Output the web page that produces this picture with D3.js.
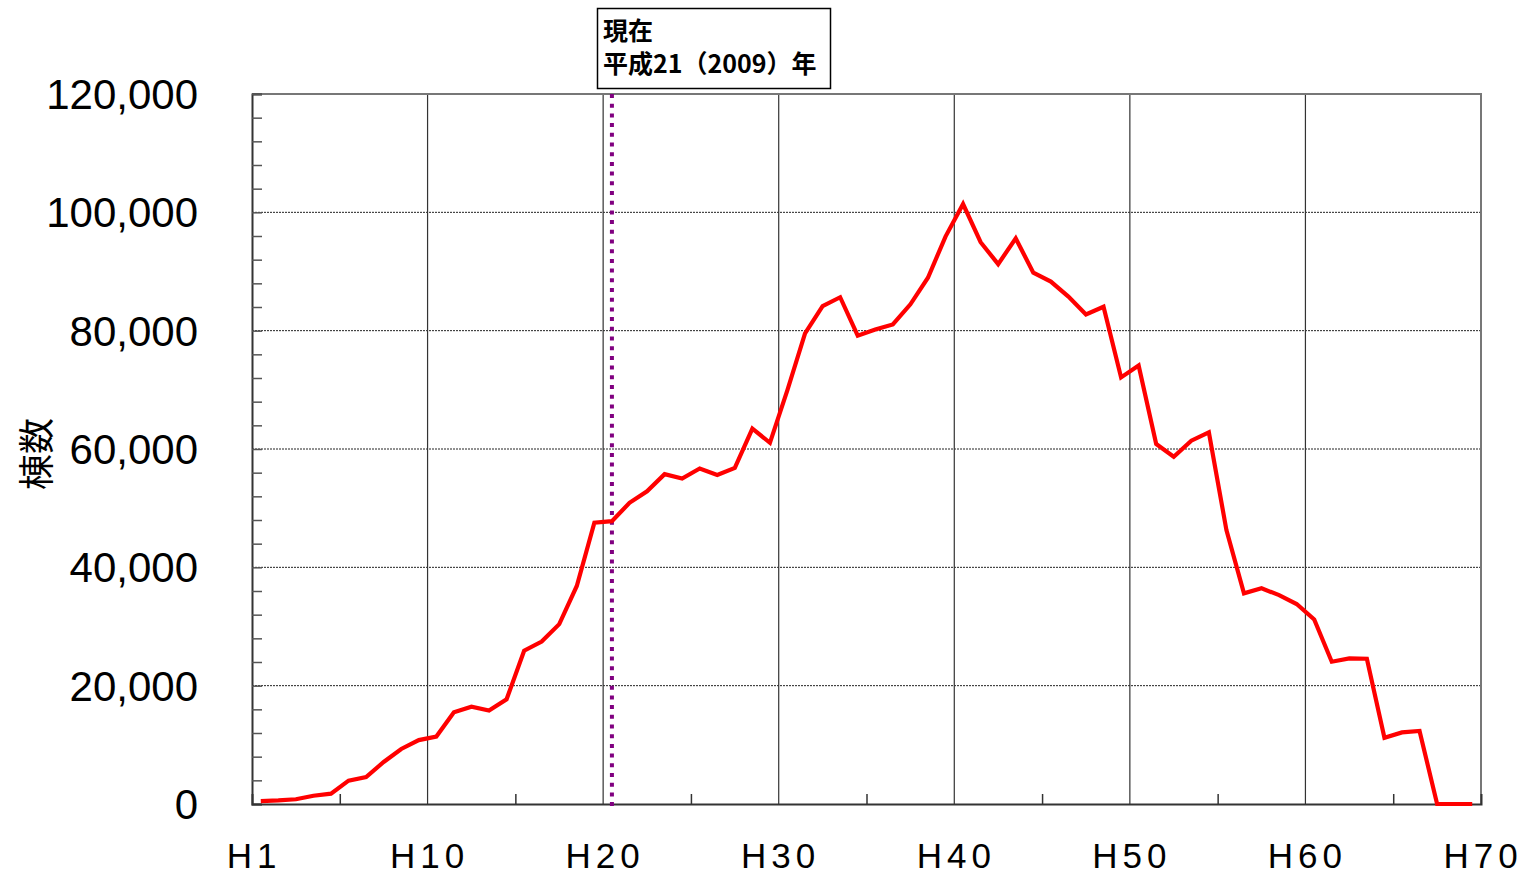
<!DOCTYPE html>
<html>
<head>
<meta charset="utf-8">
<script src="https://cdn.jsdelivr.net/npm/d3@7"></script>
<style>
  body { margin: 0; background: #fff; }
  svg { display: block; }
</style>
</head>
<body>
<div id="chart"></div>
<script>
// number of buildings per year, H1 .. H70
let years = d3.range(1, 71).map(n => 'H' + n);
let counts = [
  500, 600, 800, 1400, 1750, 3950, 4550, 7100, 9300, 10800,
  11400, 15500, 16450, 15800, 17700, 25900, 27450, 30400, 36850, 47550,
  47800, 50900, 52850, 55750, 55000, 56700, 55600, 56800, 63450, 61050,
  70000, 79550, 84150, 85650, 79150, 80200, 81050, 84450, 88950, 95900,
  101400, 94950, 91250, 95600, 89800, 88300, 85750, 82750, 84050, 72100,
  74100, 60850, 58700, 61400, 62800, 46300, 35600, 36450, 35300, 33800,
  31200, 24050, 24600, 24550, 11200, 12100, 12350, 0, 0, 0
];
let xTickValues = [0, 10, 20, 30, 40, 50, 60, 70];
let xTickLabels = ['H1', 'H10', 'H20', 'H30', 'H40', 'H50', 'H60', 'H70'];
let yTickValues = [0, 20000, 40000, 60000, 80000, 100000, 120000];
let currentYear = 'H21';
let noteLines = ['現在', '平成21（2009）年'];
let yTitle = '棟数';

let width = 1524, height = 875;
let margin = { left: 252, right: 43, top: 94, bottom: 71 };

let svg = d3.select('#chart').append('svg')
  .attr('width', width)
  .attr('height', height);

let x = d3.scaleLinear().domain([0, years.length]).range([margin.left, width - margin.right]);
let y = d3.scaleLinear().domain([0, 120000]).range([height - margin.bottom, margin.top]);
let xMid = name => x(years.indexOf(name) + 0.5);

// horizontal grid (dotted)
svg.append('g')
  .selectAll('line')
  .data(yTickValues.slice(1, -1))
  .join('line')
  .attr('x1', x(0)).attr('x2', x(70))
  .attr('y1', d => y(d)).attr('y2', d => y(d))
  .attr('stroke', '#222')
  .attr('stroke-width', 1)
  .attr('stroke-dasharray', '2,1');

// vertical grid (solid)
svg.append('g')
  .selectAll('line')
  .data(xTickValues.slice(1, -1))
  .join('line')
  .attr('x1', d => x(d)).attr('x2', d => x(d))
  .attr('y1', y(120000)).attr('y2', y(0))
  .attr('stroke', '#333')
  .attr('stroke-width', 1.2);

// frame top / right
svg.append('path')
  .attr('d', `M${x(0)},${y(120000)}H${x(70)}V${y(0)}`)
  .attr('fill', 'none')
  .attr('stroke', '#777')
  .attr('stroke-width', 2);

// y axis with inner minor ticks
let yAxis = d3.axisRight(y)
  .tickValues(d3.range(0, 120001, 4000))
  .tickSize(10)
  .tickFormat('');
let gy = svg.append('g').attr('transform', `translate(${x(0)},0)`).call(yAxis);
gy.select('.domain').attr('stroke', '#333').attr('stroke-width', 2);
gy.selectAll('.tick line').attr('stroke', '#555').attr('stroke-width', 1.5);

svg.append('g')
  .selectAll('text')
  .data(yTickValues)
  .join('text')
  .attr('x', 198)
  .attr('y', d => y(d))
  .attr('dy', '0.36em')
  .attr('text-anchor', 'end')
  .attr('font-family', 'Liberation Sans, Arial, sans-serif')
  .attr('font-size', 42)
  .attr('fill', '#000')
  .text(d3.format(','));

// x axis with inner ticks every 5 years
let xAxis = d3.axisTop(x)
  .tickValues([5, 15, 25, 35, 45, 55, 65])
  .tickSize(10)
  .tickFormat('');
let gx = svg.append('g').attr('transform', `translate(0,${y(0)})`).call(xAxis);
gx.select('.domain').attr('stroke', '#333').attr('stroke-width', 2);
gx.selectAll('.tick line').attr('stroke', '#333').attr('stroke-width', 1.5);

svg.append('g')
  .selectAll('text')
  .data(xTickValues)
  .join('text')
  .attr('x', d => x(d) + 2)
  .attr('y', 868)
  .attr('text-anchor', 'middle')
  .attr('font-family', 'Liberation Sans, Arial, sans-serif')
  .attr('font-size', 35)
  .attr('letter-spacing', 5)
  .attr('fill', '#000')
  .text((d, i) => xTickLabels[i]);

// y title
svg.append('text')
  .attr('transform', `translate(50,454) rotate(-90)`)
  .attr('text-anchor', 'middle')
  .attr('font-family', 'Noto Sans CJK JP, sans-serif')
  .attr('font-size', 36)
  .attr('fill', '#000')
  .text(yTitle);

// current year marker
svg.append('line')
  .attr('x1', xMid(currentYear)).attr('x2', xMid(currentYear))
  .attr('y1', y(120000)).attr('y2', y(0) + 6)
  .attr('stroke', '#800080')
  .attr('stroke-width', 4)
  .attr('stroke-dasharray', '4,5.7');

// data line
let line = d3.line()
  .x((d, i) => x(i + 0.5))
  .y(d => y(d));
svg.append('path')
  .datum(counts)
  .attr('d', line)
  .attr('fill', 'none')
  .attr('stroke', '#ff0000')
  .attr('stroke-width', 4.2)
  .attr('stroke-linejoin', 'miter');

// note box
let note = svg.append('g');
note.append('rect')
  .attr('x', 597.5).attr('y', 8.5)
  .attr('width', 233).attr('height', 80)
  .attr('fill', '#fff')
  .attr('stroke', '#000')
  .attr('stroke-width', 1.5);
note.selectAll('text')
  .data(noteLines)
  .join('text')
  .attr('x', 603)
  .attr('y', (d, i) => 40 + i * 33)
  .attr('font-family', 'Noto Sans CJK JP, sans-serif')
  .attr('font-weight', 'bold')
  .attr('font-size', 25)
  .attr('fill', '#000')
  .text(d => d);
</script>
</body>
</html>
